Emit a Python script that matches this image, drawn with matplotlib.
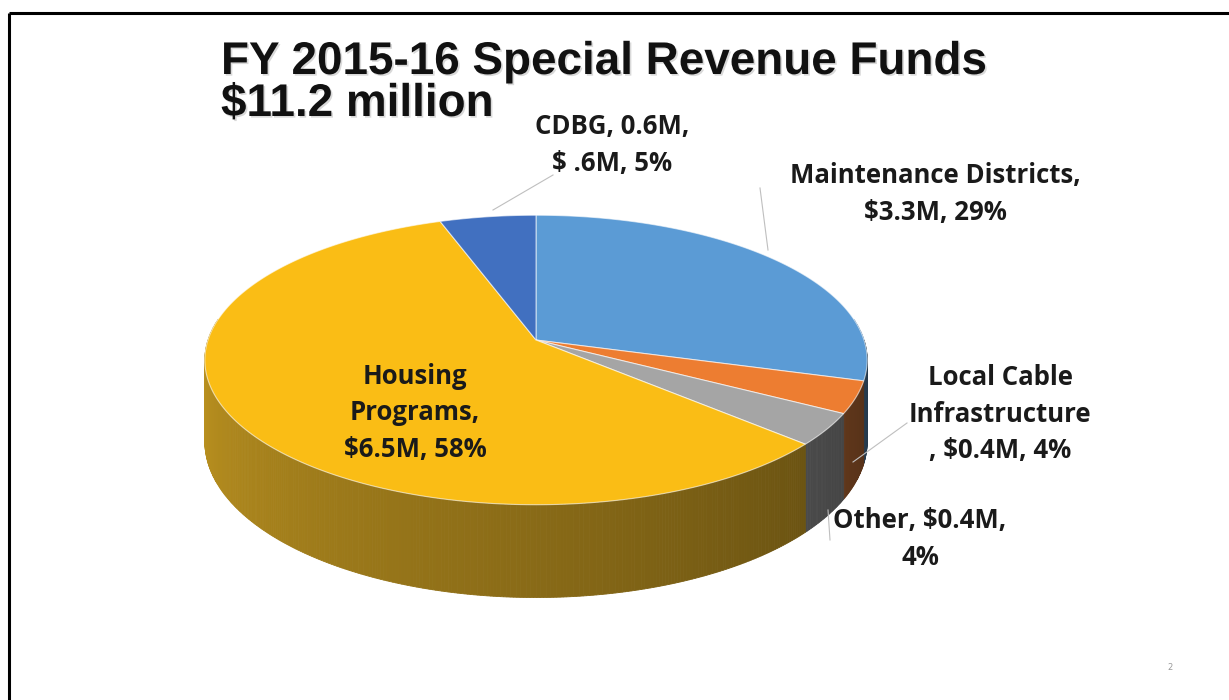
"""
FY 2015-16 Special Revenue Funds - 3D pie
"""

import matplotlib.pyplot as plt
import matplotlib.patheffects as pe
from matplotlib.patches import Polygon
from matplotlib.colors import to_rgb
import numpy as np

# 펀드별 금액 (백만 달러), 12시 방향에서 시계 방향 순서
funds = ["Maintenance Districts", "Local Cable Infrastructure", "Other",
         "Housing Programs", "CDBG"]
amounts = [3.3, 0.4, 0.4, 6.5, 0.6]
percents = [29, 4, 4, 58, 5]
labels = [
    "Maintenance Districts,\n$3.3M, 29%",
    "Local Cable\nInfrastructure\n, $0.4M, 4%",
    "Other, $0.4M,\n4%",
    "Housing\nPrograms,\n$6.5M, 58%",
    "CDBG, 0.6M,\n$ .6M, 5%",
]
colors = ["#5B9BD5", "#ED7D31", "#A5A5A5", "#FABD15", "#4170C0"]

W, H = 1229, 700

# 원근 투영 파라미터 (픽셀 단위)
CX, CY = 536, 340
A, B = 328, 142
P = 0.138
DEPTH = 80


def project(theta):
    u, v = np.cos(theta), np.sin(theta)
    s = 1.0 / (1.0 + P * v)
    x = CX + A * u * s
    y = CY - B * v * s
    return x, y, DEPTH * s


def side_color(base, theta_deg):
    t = np.clip((theta_deg % 360 - 180) / 180, 0, 1)
    f = 0.82 - 0.47 * t
    rgb = np.array(to_rgb(base))
    rgb = 0.85 * rgb + 0.15 * 0.55
    return tuple(np.clip(rgb * f, 0, 1))


fig = plt.figure(figsize=(W / 100, H / 100), dpi=100)
ax = fig.add_axes([0, 0, 1, 1])
ax.set_xlim(0, W)
ax.set_ylim(H, 0)
ax.axis("off")

# 슬라이드 테두리
ax.plot([8.5, W], [12.5, 12.5], color="black", lw=2.2, solid_capstyle="butt")
ax.plot([8.5, 8.5], [12.5, H], color="black", lw=2.2, solid_capstyle="butt")

# 조각 각도 계산 (90도에서 시계 방향)
total = sum(amounts)
fracs = np.array(amounts) / total
ends = 90 - 360 * np.cumsum(fracs)
starts = np.concatenate([[90], ends[:-1]])

# 옆면: 작은 사각형으로 쪼개서 그라데이션 표현
quads = []
for i in range(len(amounts)):
    a0, a1 = starts[i], ends[i]
    n = max(int(abs(a0 - a1) / 0.5), 2)
    th = np.linspace(a0, a1, n + 1)
    for k in range(n):
        mid = 0.5 * (th[k] + th[k + 1])
        if np.sin(np.radians(mid)) > 0.15:
            continue
        quads.append((np.sin(np.radians(mid)), th[k], th[k + 1], colors[i]))

quads.sort(key=lambda q: -q[0])
for _, t0, t1, c in quads:
    x0, y0, d0 = project(np.radians(t0))
    x1, y1, d1 = project(np.radians(t1))
    col = side_color(c, 0.5 * (t0 + t1))
    ax.add_patch(Polygon([(x0, y0), (x1, y1), (x1, y1 + d1), (x0, y0 + d0)],
                         closed=True, facecolor=col, edgecolor=col, lw=0.6))

# 윗면
for i in range(len(amounts)):
    th = np.radians(np.linspace(starts[i], ends[i], 200))
    x, y, _ = project(th)
    pts = [(CX, CY)] + list(zip(x, y))
    ax.add_patch(Polygon(pts, closed=True, facecolor=colors[i],
                         edgecolor=(1, 1, 1, 0.6), lw=0.8))

# 제목
shadow = [pe.withSimplePatchShadow(offset=(1.2, -1.2), alpha=0.15)]
title_font = dict(fontsize=33, fontweight="bold", family="Liberation Sans",
                  color="#111111", ha="left", va="baseline",
                  path_effects=shadow)
ax.text(221, 74, "FY 2015-16 Special Revenue Funds", **title_font)
ax.text(221, 116, "$11.2 million", **title_font)

# 데이터 레이블
label_pos = [(935, 194), (1000, 414), (920, 539), (415, 413), (612, 145)]
lab_font = dict(fontsize=18.5, fontweight="bold", family="Open Sans",
                color="#1a1a1a", ha="center", va="center", linespacing=1.45)
for (lx, ly), text in zip(label_pos, labels):
    ax.text(lx, ly, text, **lab_font)

# 지시선
leaders = [([760, 768], [188, 250]), ([853, 907], [462, 423]),
           ([828, 830], [510, 540]), ([493, 553], [210, 175])]
for xs, ys in leaders:
    ax.plot(xs, ys, color="#BFBFBF", lw=0.8)

ax.text(1170, 668, "2", fontsize=6, color="#999999", ha="center", va="center")

plt.savefig("out.png", dpi=100)
